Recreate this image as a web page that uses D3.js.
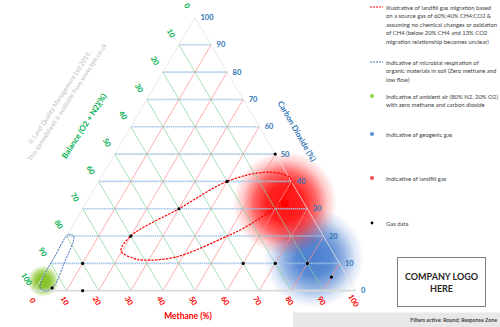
<!DOCTYPE html>
<html><head><meta charset="utf-8">
<script src="https://cdn.jsdelivr.net/npm/d3@7/dist/d3.min.js"></script>
<style>body{margin:0;background:#fff}svg{display:block}</style>
</head><body>
<svg id="c" width="500" height="327"></svg>
<script>
// ---------- data ----------
const methaneTicks = [0,10,20,30,40,50,60,70,80,90,100];
const co2Ticks     = [0,10,20,30,40,50,60,70,80,90,100];
const balanceTicks = [0,10,20,30,40,50,60,70,80,90,100];
const gridLevels   = [10,20,30,40,50,60,70,80,90];

// gas data (CH4 %, CO2 %)
const gasCH4 = [15, 5, 10, 20, 30, 40, 50, 60, 70, 80, 90];
const gasCO2 = [ 0, 1, 10, 20, 30, 40, 50, 10, 10, 10,  5];

// landfill gas migration envelope (CH4 %, CO2 %)
const landfillCH4 = [19.7, 20, 30, 40, 49.5, 55.8, 59.9, 61.0, 59.3, 53.6, 50, 38.1, 28.3, 24.8];
const landfillCO2 = [14.5, 20, 30, 40, 43.3, 42.7, 40.5, 35.7, 30.1, 22.8, 20, 12.4, 11.2, 11.9];

// microbial respiration envelope (CH4 %, CO2 %)
const respCH4 = [0.3, 2.3, 4.2, 5.2, 3.6, 1.3, 0.3, 0.1];
const respCO2 = [20.6, 19.8, 10, 1.5, -0.1, 1.0, 4, 12];

// indicative zones
const zoneNames = ["Ambient air", "Geogenic gas", "Landfill gas"];
const zoneCH4   = [1, 81, 62];
const zoneCO2   = [3.5, 12, 32];

// legend
const legendItems = [
  ["Illustrative of landfill gas migration based","on a source gas of 60%:40% CH4:CO2 &","assuming no chemical changes or oxidation","of CH4 (below 20% CH4 and 13% CO2","migration relationship becomes unclear)"],
  ["Indicative of microbial respiration of","organic materials in soil (Zero methane and","low flow)"],
  ["Indicative of ambient air (80% N2, 20% O2)","with zero methane and carbon dioxide"],
  ["Indicative of geogenic gas"],
  ["Indicative of landfill gas"],
  ["Gas data"]
];
const legendKinds = ["redline","blueline","green","blue","red","black"];
const legendY = [7, 62, 96, 134, 178, 223];

// ---------- drawing ----------
const FONT = "Lato, 'Open Sans', sans-serif";
const svg = d3.select("#c");
const base = d3.scaleLinear().domain([0,100]).range([34.5, 355.5]);
const yS   = d3.scaleLinear().domain([0,100]).range([290.7, 17.5]);
const px = (ch4, co2) => [base(ch4 + co2/2), yS(co2)];

const defs = svg.append("defs");
function glow(id, col, stops){
  const g = defs.append("radialGradient").attr("id", id);
  stops.forEach(s => g.append("stop").attr("offset", s[0]).attr("stop-color", col).attr("stop-opacity", s[1]));
}
glow("gAir", "#86c326", [[0,1],[0.4,0.95],[0.7,0.55],[0.9,0.15],[1,0]]);
glow("gGeo", "#4a7fd0", [[0,1],[0.35,0.92],[0.6,0.6],[0.82,0.2],[1,0]]);
glow("gLf",  "#ff1414", [[0,1],[0.35,0.95],[0.6,0.65],[0.82,0.22],[1,0]]);
const zoneFill = ["url(#gAir)","url(#gGeo)","url(#gLf)"];
const zoneR = [16, 50, 52];

// glows
const gz = svg.append("g");
zoneNames.forEach((n,i) => {
  const p = px(zoneCH4[i], zoneCO2[i]);
  gz.append("circle").attr("cx", p[0]).attr("cy", p[1]).attr("r", zoneR[i]).attr("fill", zoneFill[i]);
});
{ const p = px(zoneCH4[2], zoneCO2[2]);
  gz.append("circle").attr("cx", p[0]).attr("cy", p[1]).attr("r", 4).attr("fill", "#ff0000"); }

// grid
const gg = svg.append("g");
gridLevels.forEach(v => {
  let a = px(0, v), b = px(100 - v, v);
  gg.append("line").attr("x1",a[0]).attr("y1",a[1]).attr("x2",b[0]).attr("y2",b[1])
    .attr("stroke","#9dc3e6").attr("stroke-opacity",0.9).attr("stroke-width",1.6).attr("stroke-dasharray","1.5,0.6");
});
gridLevels.forEach(v => {
  let a = px(v, 0), b = px(v, 100 - v);
  gg.append("line").attr("x1",a[0]).attr("y1",a[1]).attr("x2",b[0]).attr("y2",b[1])
    .attr("stroke","#ff8f8f").attr("stroke-opacity",0.8).attr("stroke-width",0.9);
});
gridLevels.forEach(v => {
  let a = px(100 - v, 0), b = px(0, 100 - v);
  gg.append("line").attr("x1",a[0]).attr("y1",a[1]).attr("x2",b[0]).attr("y2",b[1])
    .attr("stroke","#86d39c").attr("stroke-opacity",0.8).attr("stroke-width",0.9);
});
// edges
const A = px(0,0), B = px(100,0), C = px(0,100);
gg.append("line").attr("x1",A[0]).attr("y1",A[1]).attr("x2",C[0]).attr("y2",C[1]).attr("stroke","#e3e3e3").attr("stroke-width",0.8);
gg.append("line").attr("x1",B[0]).attr("y1",B[1]).attr("x2",C[0]).attr("y2",C[1]).attr("stroke","#e3e3e3").attr("stroke-width",0.8);
gg.append("line").attr("x1",A[0]).attr("y1",A[1]).attr("x2",B[0]).attr("y2",B[1]).attr("stroke","#d9d9d9").attr("stroke-width",1.8);

// envelopes
const line = d3.line().curve(d3.curveCatmullRomClosed.alpha(0.5));
svg.append("path").attr("d", line(respCH4.map((c,i) => px(c, respCO2[i]))))
  .attr("fill","none").attr("stroke","#4472c4").attr("stroke-width",1).attr("stroke-dasharray","2,1");
svg.append("path").attr("d", line(landfillCH4.map((c,i) => px(c, landfillCO2[i]))))
  .attr("fill","none").attr("stroke","#ff0000").attr("stroke-width",1.2).attr("stroke-dasharray","2.4,1.2");

// gas data
svg.append("g").selectAll("circle").data(gasCH4).join("circle")
  .attr("cx",(d,i)=>px(d,gasCO2[i])[0]).attr("cy",(d,i)=>px(d,gasCO2[i])[1]).attr("r",1.6).attr("fill","#000");

// tick labels
const tl = svg.append("g").attr("font-family",FONT).attr("font-weight","bold").attr("font-size",7.5);
co2Ticks.forEach(v => {
  const p = px(100 - v, v);
  tl.append("text").attr("x",p[0]+5.5).attr("y",p[1]).attr("dominant-baseline","central")
    .attr("fill","#2e75b6").text(v);
});
methaneTicks.forEach(v => {
  const p = px(v, 0);
  const x = p[0]-2, y = p[1]+10;
  tl.append("text").attr("transform",`translate(${x},${y}) rotate(60)`).attr("text-anchor","middle")
    .attr("dominant-baseline","central").attr("fill","#ff0000").text(v);
});
balanceTicks.forEach(v => {
  const p = px(0, 100 - v);
  const x = p[0]-8, y = p[1]-11.5;
  tl.append("text").attr("transform",`translate(${x},${y}) rotate(60)`).attr("text-anchor","middle")
    .attr("dominant-baseline","central").attr("fill","#00b050").text(v);
});

// axis titles
const at = svg.append("g").attr("font-family",FONT).attr("font-weight","bold").attr("text-anchor","middle").attr("dominant-baseline","central");
at.append("text").attr("transform","translate(188,316)").attr("font-size",8.5).attr("fill","#ff0000").text("Methane (%)");
at.append("text").attr("transform","translate(297,131) rotate(60)").attr("font-size",8).attr("fill","#2e75b6").text("Carbon Dioxide (%)");
at.append("text").attr("transform","translate(84,126) rotate(-57)").attr("font-size",8).attr("fill","#00b050").text("Balance (O2 + N2)(%)");

// watermark
const wm = svg.append("g").attr("font-family",FONT).attr("font-size",6.4).attr("fill","#bdbdbd").attr("text-anchor","middle").attr("dominant-baseline","central");
wm.append("text").attr("transform","translate(59.5,97.5) rotate(-57)").text("© Land Quality Management Ltd 2019.");
wm.append("text").attr("transform","translate(67,102) rotate(-57)").text("This spreadsheet is available from  www.lqm.co.uk");

// legend
const lg = svg.append("g").attr("font-family",FONT).attr("font-size",5.9).attr("fill","#404040");
legendItems.forEach((lines, i) => {
  const y0 = legendY[i], k = legendKinds[i];
  if (k === "redline") lg.append("line").attr("x1",370).attr("x2",383).attr("y1",y0).attr("y2",y0).attr("stroke","#ff0000").attr("stroke-width",1.2).attr("stroke-dasharray","2,1");
  else if (k === "blueline") lg.append("line").attr("x1",370).attr("x2",383).attr("y1",y0).attr("y2",y0).attr("stroke","#4472c4").attr("stroke-width",1).attr("stroke-dasharray","2,1");
  else {
    const col = {green:"#92d050", blue:"#5b8fd6", red:"#ff4a4a", black:"#000"}[k];
    lg.append("circle").attr("cx",372).attr("cy",y0).attr("r",k==="black"?1.4:2).attr("fill",col);
  }
  lines.forEach((t, j) => lg.append("text").attr("x",386).attr("y",y0 + j*8.5).attr("dominant-baseline","central").text(t));
});

// logo box
svg.append("rect").attr("x",397.5).attr("y",257.5).attr("width",88).attr("height",49).attr("fill","#fff").attr("stroke","#7f7f7f").attr("stroke-width",1);
const lt = svg.append("g").attr("font-family",FONT).attr("font-weight","bold").attr("font-size",9).attr("fill","#262626").attr("text-anchor","middle").attr("dominant-baseline","central");
lt.append("text").attr("x",441.5).attr("y",276.5).text("COMPANY LOGO");
lt.append("text").attr("x",441.5).attr("y",288.5).text("HERE");

// filter bar
svg.append("rect").attr("x",293).attr("y",312.5).attr("width",207).attr("height",14.5).attr("fill","#e8e8e8");
svg.append("text").attr("x",497).attr("y",319.5).attr("text-anchor","end").attr("dominant-baseline","central")
  .attr("font-family",FONT).attr("font-weight","bold").attr("font-size",5.3).attr("fill","#404040").text("Filters active: Round; Response Zone");
</script>
</body></html>
